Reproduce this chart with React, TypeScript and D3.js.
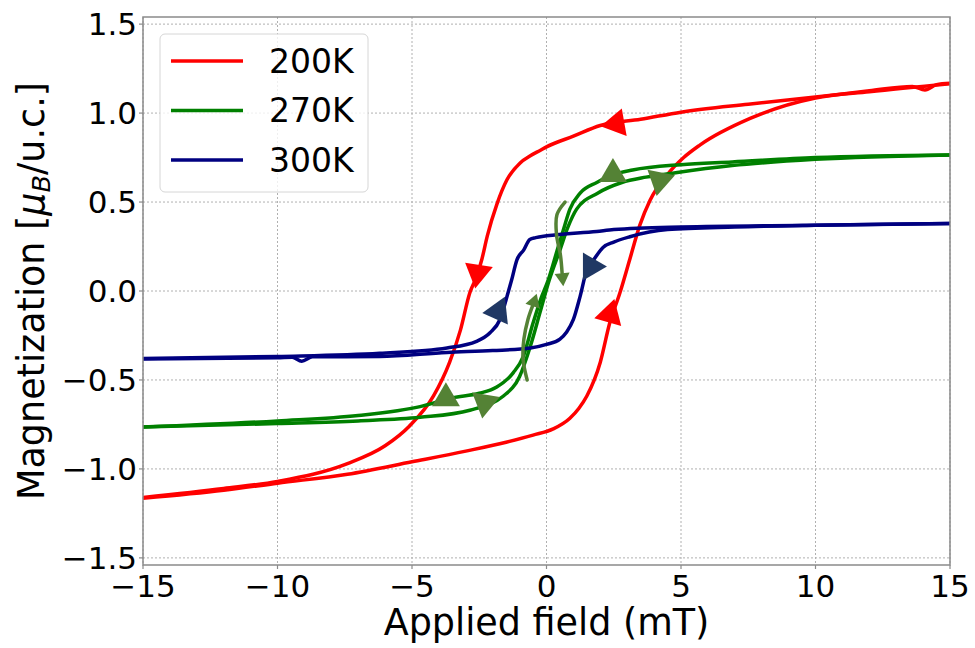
import React from "react";
import * as d3 from "d3";

// ---------- data (applied field in mT, magnetization in μB/u.c.) ----------
const fieldTicks = [-15, -10, -5, 0, 5, 10, 15];
const magTicks = [-1.5, -1.0, -0.5, 0.0, 0.5, 1.0, 1.5];
const seriesNames = ["200K", "270K", "300K"];

const red200Down: [number, number][] = [
  [15, 1.168], [14.5, 1.16], [14.07, 1.13], [13.6, 1.15], [12, 1.125], [10, 1.09],
  [7.5, 1.05], [5, 1.005], [3.5, 0.965], [2, 0.93], [1, 0.87], [0, 0.81],
  [-0.24, 0.79], [-0.6, 0.76], [-0.98, 0.72], [-1.47, 0.625], [-1.84, 0.49],
  [-2.2, 0.31], [-2.4, 0.18], [-2.6, 0.08], [-2.85, -0.01], [-3.2, -0.22],
  [-3.6, -0.4], [-4.2, -0.59], [-5.1, -0.76], [-6, -0.87], [-7.4, -0.97],
  [-10, -1.07], [-12, -1.11], [-15, -1.16],
];
const red200Up: [number, number][] = [
  [-15, -1.165], [-12, -1.12], [-10, -1.08], [-7.4, -1.03], [-5, -0.96],
  [-3, -0.9], [-1.5, -0.85], [-0.5, -0.81], [0.25, -0.775], [0.87, -0.715],
  [1.2, -0.66], [1.5, -0.59], [2.0, -0.4], [2.35, -0.18], [2.73, -0.01], [3.1, 0.18],
  [3.47, 0.37], [3.85, 0.51], [4.47, 0.65], [5.1, 0.75], [5.7, 0.82], [7.57, 0.97],
  [10, 1.085], [12, 1.12], [15, 1.165],
];
const green270Down: [number, number][] = [
  [15, 0.765], [10, 0.75], [6.9, 0.725], [5, 0.71], [3.2, 0.68], [2.5, 0.655],
  [1.87, 0.61], [1.25, 0.55], [0.87, 0.46], [0.62, 0.34], [0.4, 0.23],
  [0.06, 0.06], [-0.2, -0.04], [-0.5, -0.18], [-0.87, -0.37], [-1.24, -0.46],
  [-1.85, -0.54], [-2.5, -0.575], [-3.5, -0.6], [-4.7, -0.65], [-7, -0.7],
  [-10, -0.73], [-15, -0.765],
];
const green270Up: [number, number][] = [
  [-15, -0.765], [-10, -0.745], [-7, -0.73], [-4.7, -0.71], [-2.85, -0.67],
  [-1.6, -0.59], [-1.0, -0.48], [-0.6, -0.31], [-0.24, -0.12], [0.1, 0.06],
  [0.5, 0.23], [0.8, 0.36], [1.12, 0.46], [1.9, 0.55], [2.8, 0.61],
  [3.7, 0.64], [4.8, 0.665], [6.9, 0.705], [10, 0.74], [15, 0.765],
];
const blue300Down: [number, number][] = [
  [15, 0.38], [10, 0.37], [5, 0.36], [2.5, 0.345], [1.87, 0.335], [0, 0.31],
  [-0.4, 0.3], [-0.62, 0.29], [-0.85, 0.23], [-1.1, 0.175], [-1.3, 0.06],
  [-1.43, -0.01], [-1.73, -0.16], [-2.1, -0.235], [-2.6, -0.283], [-3.7, -0.32],
  [-6.2, -0.35], [-10, -0.368], [-15, -0.38],
];
const blue300Up: [number, number][] = [
  [-15, -0.382], [-10, -0.375], [-9.45, -0.372], [-9.1, -0.395], [-8.7, -0.37],
  [-6.2, -0.368], [-3.7, -0.345], [-2, -0.335], [-0.6, -0.32], [0, -0.3],
  [0.5, -0.27], [0.75, -0.23], [1.0, -0.16], [1.25, -0.03], [1.5, 0.12],
  [1.75, 0.175], [2.1, 0.245], [2.5, 0.275], [3.1, 0.305], [4.5, 0.345],
  [7, 0.36], [10, 0.37], [15, 0.38],
];

// direction markers: [series index, field, magnetization, heading in degrees]
const arrowMarks: [number, number, number, number][] = [
  [0, 2.45, 0.937, 170], [0, -2.58, 0.08, 99], [0, 2.4, -0.11, -74],
  [1, 2.47, 0.68, -90], [1, 4.18, 0.6, 101], [1, -3.74, -0.58, -90], [1, -2.32, -0.65, 99],
  [2, 1.8, 0.137, 0], [2, -1.73, -0.094, -66],
];

// curved guide arrows (field, magnetization)
const guideDown: [number, number][] = [
  [0.69, 0.5], [0.39, 0.43], [0.37, 0.32], [0.52, 0.2], [0.58, 0.1],
];
const guideUp: [number, number][] = [
  [-0.72, -0.5], [-0.87, -0.385], [-0.84, -0.27], [-0.69, -0.16], [-0.52, -0.085],
];

// ---------- styling ----------
const W = 975, H = 648;
const M = { left: 143, right: 950, top: 17, bottom: 565 };
const lineColors = ["#ff0000", "#008000", "#000080"];
const markColors = ["#ff0000", "#548235", "#203864"];
const guideColor = "#548235";
const FONT = "'DejaVu Sans', sans-serif";

export default function App() {
  const x = d3.scaleLinear().domain([-15, 15]).range([M.left, M.right]);
  const y = d3.scaleLinear().domain([-1.54, 1.54]).range([M.bottom, M.top]);

  const line = d3
    .line<[number, number]>()
    .x((d) => x(d[0]))
    .y((d) => y(d[1]))
    .curve(d3.curveMonotoneX);

  const sortX = (a: [number, number][]) => [...a].sort((p, q) => p[0] - q[0]);

  const branches: { pts: [number, number][]; s: number }[] = [
    { pts: red200Down, s: 0 }, { pts: red200Up, s: 0 },
    { pts: green270Down, s: 1 }, { pts: green270Up, s: 1 },
    { pts: blue300Down, s: 2 }, { pts: blue300Up, s: 2 },
  ];

  const guideLine = d3
    .line<[number, number]>()
    .x((d) => x(d[0]))
    .y((d) => y(d[1]))
    .curve(d3.curveCatmullRom);

  const triangle = (cx: number, cy: number, deg: number, L: number, Wd: number) => {
    const a = (deg * Math.PI) / 180;
    const ux = Math.cos(a), uy = Math.sin(a);
    const px = -uy, py = ux;
    const tip = [cx + ux * L / 2, cy + uy * L / 2];
    const b1 = [cx - ux * L / 2 + px * Wd / 2, cy - uy * L / 2 + py * Wd / 2];
    const b2 = [cx - ux * L / 2 - px * Wd / 2, cy - uy * L / 2 - py * Wd / 2];
    return `M${tip[0]},${tip[1]}L${b1[0]},${b1[1]}L${b2[0]},${b2[1]}Z`;
  };

  const guideHead = (pts: [number, number][]) => {
    const p1 = pts[pts.length - 2], p2 = pts[pts.length - 1];
    const x1 = x(p1[0]), y1 = y(p1[1]), x2 = x(p2[0]), y2 = y(p2[1]);
    const deg = (Math.atan2(y2 - y1, x2 - x1) * 180) / Math.PI;
    const a = (deg * Math.PI) / 180;
    const L = 13;
    return triangle(x2 + Math.cos(a) * L / 2, y2 + Math.sin(a) * L / 2, deg, L, 15);
  };

  const fmtY = (v: number) => (v < 0 ? "\u2212" : "") + Math.abs(v).toFixed(1);
  const fmtX = (v: number) => (v < 0 ? "\u2212" : "") + Math.abs(v).toString();

  return (
    <div style={{ position: "absolute", left: 0, top: 0 }}>
      <svg width={W} height={H} style={{ display: "block", background: "#fff" }} fontFamily={FONT}>
        <defs>
          <clipPath id="plotClip">
            <rect x={M.left} y={M.top} width={M.right - M.left} height={M.bottom - M.top} />
          </clipPath>
        </defs>
        {/* grid */}
        <g stroke="#b0b0b0" strokeWidth={1} strokeDasharray="2,2">
          {fieldTicks.map((t) => (
            <line key={"gx" + t} x1={x(t)} x2={x(t)} y1={M.top} y2={M.bottom} />
          ))}
          {magTicks.map((t) => (
            <line key={"gy" + t} x1={M.left} x2={M.right} y1={y(t)} y2={y(t)} />
          ))}
        </g>
        {/* curves */}
        <g clipPath="url(#plotClip)" fill="none" strokeLinejoin="round" strokeLinecap="round">
          {branches.map((b, i) => (
            <path key={i} d={line(sortX(b.pts)) || ""} stroke={lineColors[b.s]} strokeWidth={3.5} />
          ))}
          {arrowMarks.map((a, i) => (
            <path key={"am" + i} d={triangle(x(a[1]), y(a[2]), a[3], 24, 28)} fill={markColors[a[0]]} stroke="none" />
          ))}
          <path d={guideLine(guideDown) || ""} stroke={guideColor} strokeWidth={3.5} />
          <path d={guideHead(guideDown)} fill={guideColor} stroke="none" />
          <path d={guideLine(guideUp) || ""} stroke={guideColor} strokeWidth={3.5} />
          <path d={guideHead(guideUp)} fill={guideColor} stroke="none" />
        </g>
        {/* frame */}
        <rect x={M.left} y={M.top} width={M.right - M.left} height={M.bottom - M.top} fill="none" stroke="#8a8a8a" strokeWidth={1.5} />
        {/* ticks */}
        <g stroke="#8a8a8a" strokeWidth={1.2}>
          {fieldTicks.map((t) => (
            <line key={"tx" + t} x1={x(t)} x2={x(t)} y1={M.bottom} y2={M.bottom + 4} />
          ))}
          {magTicks.map((t) => (
            <line key={"ty" + t} x1={M.left - 4} x2={M.left} y1={y(t)} y2={y(t)} />
          ))}
        </g>
        <g fontSize={31} fill="#000">
          {fieldTicks.map((t) => (
            <text key={"lx" + t} x={x(t)} y={597} textAnchor="middle">{fmtX(t)}</text>
          ))}
          {magTicks.map((t) => (
            <text key={"ly" + t} x={137} y={y(t)} dy="0.36em" textAnchor="end">{fmtY(t)}</text>
          ))}
        </g>
        {/* axis labels */}
        <text x={(M.left + M.right) / 2} y={635} textAnchor="middle" fontSize={36.5}>Applied field (mT)</text>
        <text transform={`translate(44,${(M.top + M.bottom) / 2}) rotate(-90)`} textAnchor="middle" fontSize={36.5}>
          Magnetization [<tspan fontStyle="italic">μ</tspan>
          <tspan fontStyle="italic" fontSize={25.5} dy={6}>B</tspan>
          <tspan dy={-6}>/u.c.]</tspan>
        </text>
        {/* legend */}
        <rect x={160} y={34} width={208} height={158} rx={5} fill="#fff" fillOpacity={0.8} stroke="#d6d6d6" strokeWidth={1} />
        {seriesNames.map((n, i) => (
          <g key={n}>
            <line x1={171} x2={243} y1={61 + i * 49.5} y2={61 + i * 49.5} stroke={lineColors[i]} strokeWidth={3.5} />
            <text x={269} y={61 + i * 49.5} dy="0.36em" fontSize={33}>{n}</text>
          </g>
        ))}
      </svg>
    </div>
  );
}
